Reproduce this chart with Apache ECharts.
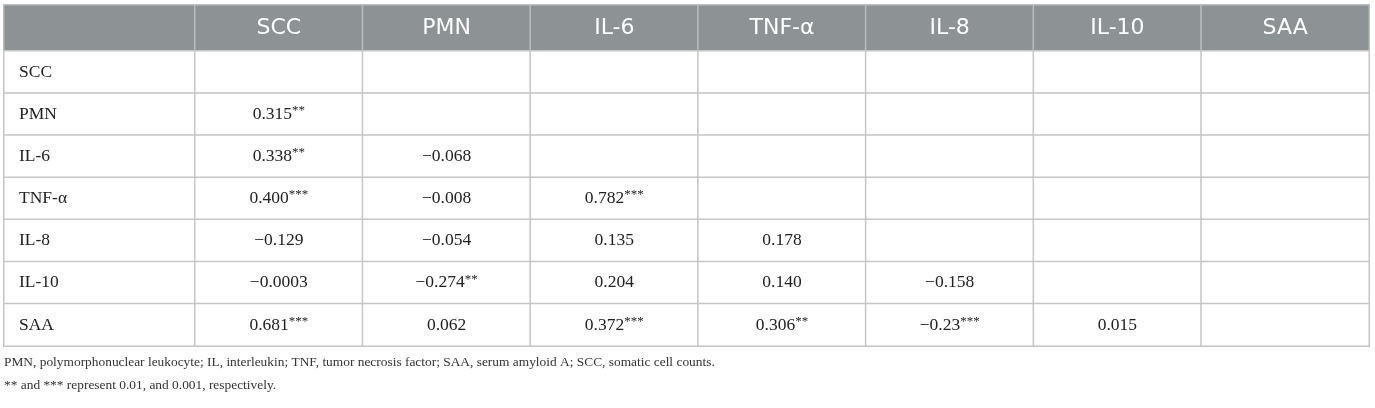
<!DOCTYPE html>
<html>
<head>
<meta charset="UTF-8">
<title>Correlation table</title>
<script src="https://cdn.jsdelivr.net/npm/echarts@6/dist/echarts.min.js"></script>
<style>
  html, body { margin: 0; padding: 0; background: #fff; }
  #main { width: 1375px; height: 408px; }
</style>
</head>
<body>
<div id="main"></div>
<script>
  // column headers and row names
  var columns = ['SCC', 'PMN', 'IL-6', 'TNF-α', 'IL-8', 'IL-10', 'SAA'];
  var rowNames = ['SCC', 'PMN', 'IL-6', 'TNF-α', 'IL-8', 'IL-10', 'SAA'];

  // lower triangle of the correlation matrix, one array per row
  var rowSCC = [];
  var rowPMN = ['0.315**'];
  var rowIL6 = ['0.338**', '−0.068'];
  var rowTNF = ['0.400***', '−0.008', '0.782***'];
  var rowIL8 = ['−0.129', '−0.054', '0.135', '0.178'];
  var rowIL10 = ['−0.0003', '−0.274**', '0.204', '0.140', '−0.158'];
  var rowSAA = ['0.681***', '0.062', '0.372***', '0.306**', '−0.23***', '0.015'];
  var matrixRows = [rowSCC, rowPMN, rowIL6, rowTNF, rowIL8, rowIL10, rowSAA];

  var footnotes = [
    'PMN, polymorphonuclear leukocyte; IL, interleukin; TNF, tumor necrosis factor; SAA, serum amyloid A; SCC, somatic cell counts.',
    '** and *** represent 0.01, and 0.001, respectively.'
  ];

  var serif = 'Liberation Serif';
  var lineColor = '#c6c6c6';
  var headColor = '#8d9295';

  // build heatmap data
  var headData = columns.map(function (c, i) {
    return {value: [i, 0, 1], text: c};
  });
  var nameData = rowNames.map(function (r, i) {
    return {value: [0, i, 1], text: r};
  });
  var cellData = [];
  for (var y = 0; y < rowNames.length; y++) {
    for (var x = 0; x < columns.length; x++) {
      var txt = matrixRows[y][x] || '';
      var num = txt ? parseFloat(txt.replace('−', '-').replace(/\*/g, '')) : 0;
      cellData.push({value: [x, y, num], text: txt});
    }
  }

  function cellLabel(p) {
    var t = p.data.text;
    if (!t) return '';
    var m = t.match(/^([^*]*)(\**)$/);
    return m[2] ? '{v|' + m[1] + '}{s|' + m[2] + '}' : '{v|' + m[1] + '}';
  }

  function catAxis(idx, data, inverse) {
    return {
      type: 'category', gridIndex: idx, data: data, inverse: !!inverse,
      show: false, boundaryGap: true
    };
  }

  var myChart = echarts.init(document.getElementById('main'));

  var option = {
    animation: false,
    title: footnotes.map(function (f, i) {
      return {
        text: f, left: 4, top: 356 + i * 23, padding: 0,
        textStyle: {fontFamily: serif, fontSize: 13.4, fontWeight: 'normal', color: '#333'}
      };
    }),
    grid: [
      {left: 4, top: 5, width: 191, height: 46},
      {left: 195, top: 5, width: 1174, height: 46},
      {left: 4, top: 51, width: 191, height: 295},
      {left: 195, top: 51, width: 1174, height: 295}
    ],
    xAxis: [
      catAxis(0, ['']),
      catAxis(1, columns),
      catAxis(2, ['']),
      catAxis(3, columns)
    ],
    yAxis: [
      catAxis(0, ['']),
      catAxis(1, ['']),
      catAxis(2, rowNames, true),
      catAxis(3, rowNames, true)
    ],
    series: [
      {
        type: 'heatmap', xAxisIndex: 0, yAxisIndex: 0,
        data: [{value: [0, 0, 1], text: ''}],
        itemStyle: {color: headColor, borderColor: '#b9bdbf', borderWidth: 1.5},
        label: {show: false}
      },
      {
        type: 'heatmap', xAxisIndex: 1, yAxisIndex: 1,
        data: headData,
        itemStyle: {color: headColor, borderColor: '#b9bdbf', borderWidth: 1.5},
        label: {
          show: true, color: '#fff', fontFamily: 'DejaVu Sans', fontSize: 22,
          formatter: function (p) { return p.data.text; }
        }
      },
      {
        type: 'heatmap', xAxisIndex: 2, yAxisIndex: 2,
        data: nameData,
        itemStyle: {color: '#fff', borderColor: lineColor, borderWidth: 1.5},
        label: {
          show: true, position: 'insideLeft', distance: 16,
          color: '#222', fontFamily: serif, fontSize: 17.5,
          formatter: function (p) { return p.data.text; }
        }
      },
      {
        type: 'heatmap', xAxisIndex: 3, yAxisIndex: 3,
        data: cellData,
        itemStyle: {color: '#fff', borderColor: lineColor, borderWidth: 1.5},
        label: {
          show: true, formatter: cellLabel,
          rich: {
            v: {color: '#222', fontFamily: serif, fontSize: 17.5, lineHeight: 20},
            s: {color: '#222', fontFamily: serif, fontSize: 13, lineHeight: 20, verticalAlign: 'top'}
          }
        }
      }
    ]
  };

  myChart.setOption(option);
</script>
</body>
</html>
